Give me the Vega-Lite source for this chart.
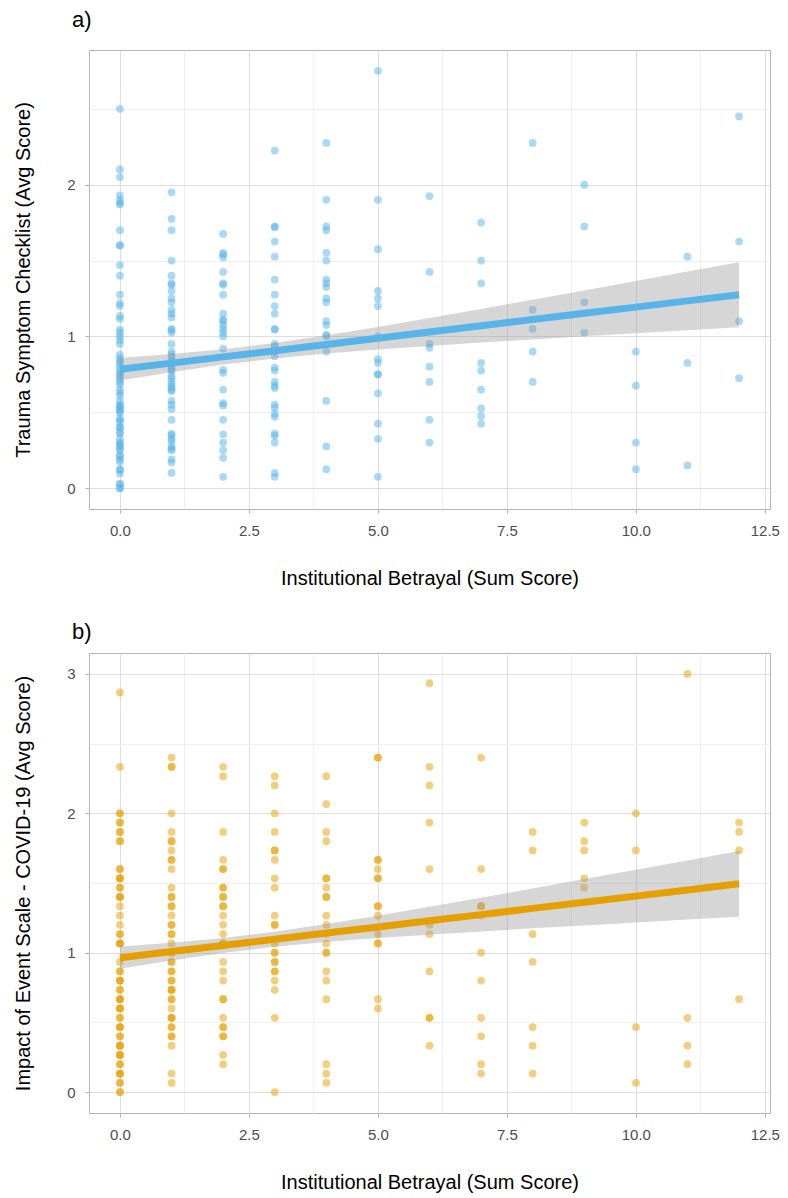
{
 "$schema": "https://vega.github.io/schema/vega-lite/v6.json",
 "background": "white",
 "padding": {"left": 13, "top": 8, "right": 5, "bottom": 5},
 "config": {
  "font": "Liberation Sans",
  "view": {"stroke": "#B3B3B3", "strokeWidth": 1},
  "axis": {"domain": false, "labelFontSize": 15, "labelColor": "#4D4D4D", "titleFontSize": 20, "titleColor": "#000000", "titleFontWeight": "normal", "tickSize": 4, "labelPadding": 10, "gridWidth": 1},
  "title": {"fontSize": 22, "fontWeight": "normal", "anchor": "start", "color": "#000000", "frame": "group"}
 },
 "datasets": {
  "ptsA": [
   {"x":0,"y":2.5},{"x":0,"y":2.1},{"x":0,"y":2.05},{"x":0,"y":1.93},{"x":0,"y":1.9},{"x":0,"y":1.88},{"x":0,"y":1.87},{"x":0,"y":1.7},{"x":0,"y":1.6},{"x":0,"y":1.6},{"x":0,"y":1.47},{"x":0,"y":1.4},{"x":0,"y":1.275},{"x":0,"y":1.22},{"x":0,"y":1.2},{"x":0,"y":1.135},{"x":0,"y":1.115},{"x":0,"y":1.045},{"x":0,"y":1.025},{"x":0,"y":1.0},{"x":0,"y":0.975},{"x":0,"y":0.95},{"x":0,"y":0.88},{"x":0,"y":0.855},{"x":0,"y":0.84},{"x":0,"y":0.825},{"x":0,"y":0.8},{"x":0,"y":0.78},{"x":0,"y":0.76},{"x":0,"y":0.75},{"x":0,"y":0.735},{"x":0,"y":0.72},{"x":0,"y":0.7},{"x":0,"y":0.685},{"x":0,"y":0.65},{"x":0,"y":0.63},{"x":0,"y":0.61},{"x":0,"y":0.575},{"x":0,"y":0.55},{"x":0,"y":0.54},{"x":0,"y":0.53},{"x":0,"y":0.52},{"x":0,"y":0.5},{"x":0,"y":0.5},{"x":0,"y":0.455},{"x":0,"y":0.45},{"x":0,"y":0.43},{"x":0,"y":0.4},{"x":0,"y":0.4},{"x":0,"y":0.37},{"x":0,"y":0.36},{"x":0,"y":0.325},{"x":0,"y":0.3},{"x":0,"y":0.29},{"x":0,"y":0.28},{"x":0,"y":0.26},{"x":0,"y":0.25},{"x":0,"y":0.215},{"x":0,"y":0.21},{"x":0,"y":0.19},{"x":0,"y":0.175},{"x":0,"y":0.125},{"x":0,"y":0.12},{"x":0,"y":0.095},{"x":0,"y":0.03},{"x":0,"y":0.025},{"x":0,"y":0.0},{"x":0,"y":0.0},
   {"x":1,"y":1.95},{"x":1,"y":1.775},{"x":1,"y":1.7},{"x":1,"y":1.5},{"x":1,"y":1.4},{"x":1,"y":1.35},{"x":1,"y":1.34},{"x":1,"y":1.3},{"x":1,"y":1.25},{"x":1,"y":1.225},{"x":1,"y":1.175},{"x":1,"y":1.15},{"x":1,"y":1.125},{"x":1,"y":1.05},{"x":1,"y":1.04},{"x":1,"y":1.025},{"x":1,"y":0.95},{"x":1,"y":0.9},{"x":1,"y":0.88},{"x":1,"y":0.865},{"x":1,"y":0.84},{"x":1,"y":0.82},{"x":1,"y":0.8},{"x":1,"y":0.78},{"x":1,"y":0.775},{"x":1,"y":0.74},{"x":1,"y":0.725},{"x":1,"y":0.7},{"x":1,"y":0.68},{"x":1,"y":0.665},{"x":1,"y":0.65},{"x":1,"y":0.64},{"x":1,"y":0.575},{"x":1,"y":0.55},{"x":1,"y":0.52},{"x":1,"y":0.45},{"x":1,"y":0.36},{"x":1,"y":0.35},{"x":1,"y":0.325},{"x":1,"y":0.31},{"x":1,"y":0.275},{"x":1,"y":0.26},{"x":1,"y":0.25},{"x":1,"y":0.19},{"x":1,"y":0.17},{"x":1,"y":0.1},
   {"x":2,"y":1.675},{"x":2,"y":1.55},{"x":2,"y":1.54},{"x":2,"y":1.52},{"x":2,"y":1.425},{"x":2,"y":1.35},{"x":2,"y":1.34},{"x":2,"y":1.275},{"x":2,"y":1.15},{"x":2,"y":1.11},{"x":2,"y":1.1},{"x":2,"y":1.075},{"x":2,"y":1.05},{"x":2,"y":1.025},{"x":2,"y":1.0},{"x":2,"y":0.92},{"x":2,"y":0.78},{"x":2,"y":0.76},{"x":2,"y":0.65},{"x":2,"y":0.56},{"x":2,"y":0.545},{"x":2,"y":0.45},{"x":2,"y":0.355},{"x":2,"y":0.3},{"x":2,"y":0.25},{"x":2,"y":0.2},{"x":2,"y":0.075},
   {"x":3,"y":2.225},{"x":3,"y":1.725},{"x":3,"y":1.72},{"x":3,"y":1.625},{"x":3,"y":1.525},{"x":3,"y":1.375},{"x":3,"y":1.275},{"x":3,"y":1.2},{"x":3,"y":1.15},{"x":3,"y":1.05},{"x":3,"y":1.045},{"x":3,"y":0.95},{"x":3,"y":0.935},{"x":3,"y":0.9},{"x":3,"y":0.87},{"x":3,"y":0.795},{"x":3,"y":0.775},{"x":3,"y":0.7},{"x":3,"y":0.675},{"x":3,"y":0.66},{"x":3,"y":0.55},{"x":3,"y":0.53},{"x":3,"y":0.49},{"x":3,"y":0.47},{"x":3,"y":0.36},{"x":3,"y":0.345},{"x":3,"y":0.3},{"x":3,"y":0.1},{"x":3,"y":0.075},
   {"x":4,"y":2.275},{"x":4,"y":1.9},{"x":4,"y":1.725},{"x":4,"y":1.7},{"x":4,"y":1.55},{"x":4,"y":1.5},{"x":4,"y":1.375},{"x":4,"y":1.35},{"x":4,"y":1.325},{"x":4,"y":1.25},{"x":4,"y":1.225},{"x":4,"y":1.1},{"x":4,"y":1.075},{"x":4,"y":1.0125},{"x":4,"y":1.0},{"x":4,"y":0.9},{"x":4,"y":0.575},{"x":4,"y":0.275},{"x":4,"y":0.125},
   {"x":5,"y":2.75},{"x":5,"y":1.9},{"x":5,"y":1.575},{"x":5,"y":1.3},{"x":5,"y":1.25},{"x":5,"y":1.2},{"x":5,"y":1.0},{"x":5,"y":0.85},{"x":5,"y":0.825},{"x":5,"y":0.75},{"x":5,"y":0.75},{"x":5,"y":0.625},{"x":5,"y":0.425},{"x":5,"y":0.325},{"x":5,"y":0.075},
   {"x":6,"y":1.925},{"x":6,"y":1.425},{"x":6,"y":0.95},{"x":6,"y":0.925},{"x":6,"y":0.8},{"x":6,"y":0.7},{"x":6,"y":0.45},{"x":6,"y":0.3},
   {"x":7,"y":1.75},{"x":7,"y":1.5},{"x":7,"y":1.35},{"x":7,"y":0.825},{"x":7,"y":0.775},{"x":7,"y":0.65},{"x":7,"y":0.525},{"x":7,"y":0.475},{"x":7,"y":0.425},
   {"x":8,"y":2.275},{"x":8,"y":1.175},{"x":8,"y":1.05},{"x":8,"y":0.9},{"x":8,"y":0.7},
   {"x":9,"y":2.0},{"x":9,"y":1.725},{"x":9,"y":1.225},{"x":9,"y":1.025},
   {"x":10,"y":0.9},{"x":10,"y":0.675},{"x":10,"y":0.3},{"x":10,"y":0.125},
   {"x":11,"y":1.525},{"x":11,"y":0.825},{"x":11,"y":0.15},
   {"x":12,"y":2.45},{"x":12,"y":1.625},{"x":12,"y":1.1},{"x":12,"y":0.725}
  ],
  "fitA": [
   {"x":0,"fit":0.783,"lo":0.709,"hi":0.857},{"x":1,"fit":0.824,"lo":0.764,"hi":0.884},{"x":2,"fit":0.865,"lo":0.814,"hi":0.916},{"x":3,"fit":0.906,"lo":0.855,"hi":0.957},{"x":4,"fit":0.947,"lo":0.887,"hi":1.007},{"x":5,"fit":0.988,"lo":0.914,"hi":1.062},{"x":6,"fit":1.029,"lo":0.937,"hi":1.121},{"x":7,"fit":1.07,"lo":0.959,"hi":1.181},{"x":8,"fit":1.111,"lo":0.98,"hi":1.242},{"x":9,"fit":1.152,"lo":1.001,"hi":1.303},{"x":10,"fit":1.193,"lo":1.021,"hi":1.365},{"x":11,"fit":1.234,"lo":1.041,"hi":1.427},{"x":12,"fit":1.275,"lo":1.061,"hi":1.489}
  ],
  "ptsB": [
   {"x":0,"y":2.8667},{"x":0,"y":2.3333},{"x":0,"y":2},{"x":0,"y":2},{"x":0,"y":1.9333},{"x":0,"y":1.9333},{"x":0,"y":1.8667},{"x":0,"y":1.8667},{"x":0,"y":1.8},{"x":0,"y":1.8},{"x":0,"y":1.6},{"x":0,"y":1.6},{"x":0,"y":1.5333},{"x":0,"y":1.5333},{"x":0,"y":1.5333},{"x":0,"y":1.4667},{"x":0,"y":1.4667},{"x":0,"y":1.4},{"x":0,"y":1.4},{"x":0,"y":1.4},{"x":0,"y":1.3333},{"x":0,"y":1.2667},{"x":0,"y":1.2},{"x":0,"y":1.1333},{"x":0,"y":1.1333},{"x":0,"y":1.0667},{"x":0,"y":1.0667},{"x":0,"y":1.0667},{"x":0,"y":0.9333},{"x":0,"y":0.8667},{"x":0,"y":0.8667},{"x":0,"y":0.8},{"x":0,"y":0.8},{"x":0,"y":0.8},{"x":0,"y":0.7333},{"x":0,"y":0.7333},{"x":0,"y":0.6667},{"x":0,"y":0.6667},{"x":0,"y":0.6667},{"x":0,"y":0.6},{"x":0,"y":0.6},{"x":0,"y":0.6},{"x":0,"y":0.5333},{"x":0,"y":0.5333},{"x":0,"y":0.4667},{"x":0,"y":0.4667},{"x":0,"y":0.4667},{"x":0,"y":0.4},{"x":0,"y":0.4},{"x":0,"y":0.3333},{"x":0,"y":0.3333},{"x":0,"y":0.3333},{"x":0,"y":0.2667},{"x":0,"y":0.2667},{"x":0,"y":0.2667},{"x":0,"y":0.2},{"x":0,"y":0.2},{"x":0,"y":0.1333},{"x":0,"y":0.1333},{"x":0,"y":0.1333},{"x":0,"y":0.0667},{"x":0,"y":0.0667},{"x":0,"y":0},{"x":0,"y":0},
   {"x":1,"y":2.4},{"x":1,"y":2.3333},{"x":1,"y":2.3333},{"x":1,"y":2},{"x":1,"y":1.8667},{"x":1,"y":1.8},{"x":1,"y":1.8},{"x":1,"y":1.7333},{"x":1,"y":1.6667},{"x":1,"y":1.6667},{"x":1,"y":1.6},{"x":1,"y":1.4667},{"x":1,"y":1.4},{"x":1,"y":1.4},{"x":1,"y":1.3333},{"x":1,"y":1.3333},{"x":1,"y":1.2667},{"x":1,"y":1.2},{"x":1,"y":1.2},{"x":1,"y":1.1333},{"x":1,"y":1.1333},{"x":1,"y":1.0667},{"x":1,"y":1},{"x":1,"y":1},{"x":1,"y":0.9333},{"x":1,"y":0.9333},{"x":1,"y":0.8667},{"x":1,"y":0.8667},{"x":1,"y":0.8},{"x":1,"y":0.8},{"x":1,"y":0.7333},{"x":1,"y":0.7333},{"x":1,"y":0.7333},{"x":1,"y":0.6667},{"x":1,"y":0.6667},{"x":1,"y":0.6},{"x":1,"y":0.5333},{"x":1,"y":0.5333},{"x":1,"y":0.5333},{"x":1,"y":0.4667},{"x":1,"y":0.4667},{"x":1,"y":0.4},{"x":1,"y":0.4},{"x":1,"y":0.3333},{"x":1,"y":0.1333},{"x":1,"y":0.0667},
   {"x":2,"y":2.3333},{"x":2,"y":2.2667},{"x":2,"y":1.8667},{"x":2,"y":1.6667},{"x":2,"y":1.6},{"x":2,"y":1.6},{"x":2,"y":1.4667},{"x":2,"y":1.4667},{"x":2,"y":1.4},{"x":2,"y":1.4},{"x":2,"y":1.3333},{"x":2,"y":1.3333},{"x":2,"y":1.2667},{"x":2,"y":1.2},{"x":2,"y":1.1333},{"x":2,"y":1.0667},{"x":2,"y":1.0667},{"x":2,"y":0.9333},{"x":2,"y":0.8667},{"x":2,"y":0.8},{"x":2,"y":0.6667},{"x":2,"y":0.6667},{"x":2,"y":0.5333},{"x":2,"y":0.4667},{"x":2,"y":0.4667},{"x":2,"y":0.4},{"x":2,"y":0.4},{"x":2,"y":0.2667},{"x":2,"y":0.2},
   {"x":3,"y":2.2667},{"x":3,"y":2.2},{"x":3,"y":2},{"x":3,"y":1.8667},{"x":3,"y":1.7333},{"x":3,"y":1.7333},{"x":3,"y":1.6667},{"x":3,"y":1.5333},{"x":3,"y":1.4667},{"x":3,"y":1.2667},{"x":3,"y":1.2},{"x":3,"y":1.2},{"x":3,"y":1.0667},{"x":3,"y":1},{"x":3,"y":1},{"x":3,"y":0.9333},{"x":3,"y":0.9333},{"x":3,"y":0.8667},{"x":3,"y":0.8667},{"x":3,"y":0.8},{"x":3,"y":0.7333},{"x":3,"y":0.5333},{"x":3,"y":0},
   {"x":4,"y":2.2667},{"x":4,"y":2.0667},{"x":4,"y":1.8667},{"x":4,"y":1.8},{"x":4,"y":1.5333},{"x":4,"y":1.5333},{"x":4,"y":1.4667},{"x":4,"y":1.4},{"x":4,"y":1.4},{"x":4,"y":1.2667},{"x":4,"y":1.2},{"x":4,"y":1.1333},{"x":4,"y":1.0667},{"x":4,"y":1},{"x":4,"y":1},{"x":4,"y":0.8667},{"x":4,"y":0.8},{"x":4,"y":0.6667},{"x":4,"y":0.2},{"x":4,"y":0.1333},{"x":4,"y":0.0667},
   {"x":5,"y":2.4},{"x":5,"y":2.4},{"x":5,"y":1.6667},{"x":5,"y":1.6667},{"x":5,"y":1.6},{"x":5,"y":1.5333},{"x":5,"y":1.5333},{"x":5,"y":1.3333},{"x":5,"y":1.3333},{"x":5,"y":1.2667},{"x":5,"y":1.1333},{"x":5,"y":1.0667},{"x":5,"y":1.0667},{"x":5,"y":0.6667},{"x":5,"y":0.6},
   {"x":6,"y":2.9333},{"x":6,"y":2.3333},{"x":6,"y":2.2},{"x":6,"y":1.9333},{"x":6,"y":1.6},{"x":6,"y":1.2},{"x":6,"y":1.1333},{"x":6,"y":0.8667},{"x":6,"y":0.5333},{"x":6,"y":0.5333},{"x":6,"y":0.3333},
   {"x":7,"y":2.4},{"x":7,"y":1.6},{"x":7,"y":1.3333},{"x":7,"y":1.3333},{"x":7,"y":1.2667},{"x":7,"y":1},{"x":7,"y":0.8},{"x":7,"y":0.5333},{"x":7,"y":0.4},{"x":7,"y":0.2},{"x":7,"y":0.1333},
   {"x":8,"y":1.8667},{"x":8,"y":1.7333},{"x":8,"y":1.1333},{"x":8,"y":0.9333},{"x":8,"y":0.4667},{"x":8,"y":0.3333},{"x":8,"y":0.1333},
   {"x":9,"y":1.9333},{"x":9,"y":1.8},{"x":9,"y":1.7333},{"x":9,"y":1.5333},{"x":9,"y":1.4667},
   {"x":10,"y":2},{"x":10,"y":1.7333},{"x":10,"y":0.4667},{"x":10,"y":0.0667},
   {"x":11,"y":3},{"x":11,"y":0.5333},{"x":11,"y":0.3333},{"x":11,"y":0.2},
   {"x":12,"y":1.9333},{"x":12,"y":1.8667},{"x":12,"y":1.7333},{"x":12,"y":0.6667}
  ],
  "fitB": [
   {"x":0,"fit":0.964,"lo":0.884,"hi":1.044},{"x":1,"fit":1.008,"lo":0.944,"hi":1.072},{"x":2,"fit":1.052,"lo":0.998,"hi":1.106},{"x":3,"fit":1.097,"lo":1.043,"hi":1.151},{"x":4,"fit":1.141,"lo":1.077,"hi":1.205},{"x":5,"fit":1.185,"lo":1.105,"hi":1.265},{"x":6,"fit":1.229,"lo":1.129,"hi":1.329},{"x":7,"fit":1.273,"lo":1.152,"hi":1.394},{"x":8,"fit":1.318,"lo":1.175,"hi":1.461},{"x":9,"fit":1.362,"lo":1.196,"hi":1.528},{"x":10,"fit":1.406,"lo":1.217,"hi":1.595},{"x":11,"fit":1.45,"lo":1.238,"hi":1.662},{"x":12,"fit":1.494,"lo":1.258,"hi":1.73}
  ]
 },
 "spacing": 31,
 "vconcat": [
  {
   "width": 681, "height": 459,
   "title": {"text": "a)", "dx": -17, "offset": 18},
   "encoding": {
    "x": {"field": "x", "type": "quantitative", "title": "Institutional Betrayal (Sum Score)",
     "scale": {"domain": [-0.6, 12.6], "nice": false, "zero": false},
     "axis": {"values": [0,1.25,2.5,3.75,5,6.25,7.5,8.75,10,11.25,12.5],
      "labelExpr": "datum.value % 2.5 === 0 ? format(datum.value, '.1f') : ''",
      "gridColor": {"condition": {"test": "datum.value % 2.5 === 0", "value": "#DEDEDE"}, "value": "#EFEFEF"},
      "tickColor": {"condition": {"test": "datum.value % 2.5 === 0", "value": "#B3B3B3"}, "value": "transparent"},
      "titlePadding": 30}}
   },
   "layer": [
    {"data": {"name": "ptsA"}, "mark": {"type": "circle", "size": 60, "opacity": 0.5, "color": "#56B4E9"},
     "encoding": {"y": {"field": "y", "type": "quantitative", "title": "Trauma Symptom Checklist (Avg Score)",
      "scale": {"domain": [-0.1375, 2.8875], "nice": false, "zero": false},
      "axis": {"values": [0,0.5,1,1.5,2,2.5],
       "labelExpr": "datum.value % 1 === 0 ? format(datum.value, 'd') : ''",
       "gridColor": {"condition": {"test": "datum.value % 1 === 0", "value": "#DEDEDE"}, "value": "#EFEFEF"},
       "tickColor": {"condition": {"test": "datum.value % 1 === 0", "value": "#B3B3B3"}, "value": "transparent"},
       "titlePadding": 33}}}},
    {"data": {"name": "fitA"}, "mark": {"type": "area", "color": "#999999", "opacity": 0.4},
     "encoding": {"y": {"field": "lo", "type": "quantitative", "title": "Trauma Symptom Checklist (Avg Score)"}, "y2": {"field": "hi"}}},
    {"data": {"name": "fitA"}, "mark": {"type": "line", "color": "#56B4E9", "strokeWidth": 7},
     "encoding": {"y": {"field": "fit", "type": "quantitative", "title": "Trauma Symptom Checklist (Avg Score)"}}}
   ]
  },
  {
   "width": 681, "height": 460,
   "title": {"text": "b)", "dx": -17, "offset": 9},
   "encoding": {
    "x": {"field": "x", "type": "quantitative", "title": "Institutional Betrayal (Sum Score)",
     "scale": {"domain": [-0.6, 12.6], "nice": false, "zero": false},
     "axis": {"values": [0,1.25,2.5,3.75,5,6.25,7.5,8.75,10,11.25,12.5],
      "labelExpr": "datum.value % 2.5 === 0 ? format(datum.value, '.1f') : ''",
      "gridColor": {"condition": {"test": "datum.value % 2.5 === 0", "value": "#DEDEDE"}, "value": "#EFEFEF"},
      "tickColor": {"condition": {"test": "datum.value % 2.5 === 0", "value": "#B3B3B3"}, "value": "transparent"},
      "titlePadding": 30}}
   },
   "layer": [
    {"data": {"name": "ptsB"}, "mark": {"type": "circle", "size": 60, "opacity": 0.5, "color": "#E69F00"},
     "encoding": {"y": {"field": "y", "type": "quantitative", "title": "Impact of Event Scale - COVID-19 (Avg Score)",
      "scale": {"domain": [-0.15, 3.15], "nice": false, "zero": false},
      "axis": {"values": [0,0.5,1,1.5,2,2.5,3],
       "labelExpr": "datum.value % 1 === 0 ? format(datum.value, 'd') : ''",
       "gridColor": {"condition": {"test": "datum.value % 1 === 0", "value": "#DEDEDE"}, "value": "#EFEFEF"},
       "tickColor": {"condition": {"test": "datum.value % 1 === 0", "value": "#B3B3B3"}, "value": "transparent"},
       "titlePadding": 33}}}},
    {"data": {"name": "fitB"}, "mark": {"type": "area", "color": "#999999", "opacity": 0.4},
     "encoding": {"y": {"field": "lo", "type": "quantitative", "title": "Impact of Event Scale - COVID-19 (Avg Score)"}, "y2": {"field": "hi"}}},
    {"data": {"name": "fitB"}, "mark": {"type": "line", "color": "#E69F00", "strokeWidth": 7},
     "encoding": {"y": {"field": "fit", "type": "quantitative", "title": "Impact of Event Scale - COVID-19 (Avg Score)"}}}
   ]
  }
 ]
}
